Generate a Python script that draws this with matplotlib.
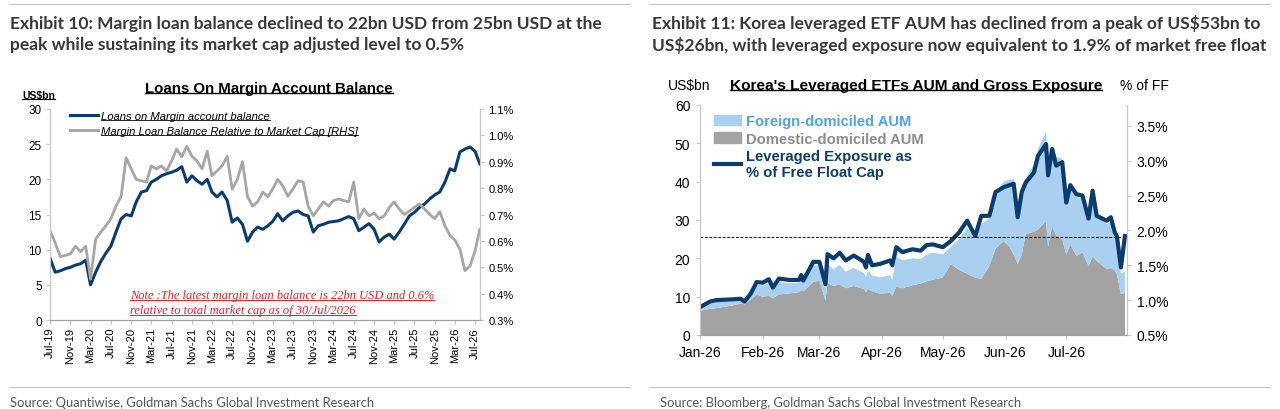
import pandas as pd
import matplotlib.pyplot as plt
import matplotlib.dates as mdates
from matplotlib.lines import Line2D
from matplotlib.patches import Patch
from matplotlib.ticker import FuncFormatter, MultipleLocator

plt.rcParams['font.family'] = ['Liberation Sans', 'DejaVu Sans']

# ---- Exhibit 10 data: monthly, Jul-19 .. Jul-26, plus last print 30-Jul-26
margin_dates = list(pd.date_range("2019-07-01", periods=85, freq="MS")) + [pd.Timestamp("2026-07-30")]
loan_balance = [
    8.8, 6.8, 7.0, 7.3, 7.5, 7.8, 8.0, 8.5, 5.0, 6.8, 8.3, 9.5,
    10.5, 12.5, 14.4, 15.0, 14.8, 16.8, 18.2, 18.4, 19.6, 20.0, 20.5, 20.8,
    21.0, 21.3, 21.8, 19.6, 20.5, 19.8, 19.3, 20.0, 18.2, 17.5, 18.2, 17.0,
    13.9, 14.5, 13.6, 11.2, 12.5, 13.2, 12.9, 13.4, 14.0, 15.1, 14.1, 14.8,
    15.3, 15.5, 15.0, 14.8, 12.5, 13.4, 13.6, 13.9, 14.0, 14.1, 14.4, 14.7,
    14.4, 12.7, 13.2, 13.7, 12.9, 11.1, 11.8, 12.2, 11.5, 12.5, 13.6, 14.8,
    15.3, 16.0, 16.5, 17.2, 17.8, 18.2, 19.6, 21.5, 21.2, 23.9, 24.3, 24.6,
    24.0, 22.2,
]
loan_to_mcap = [
    0.639, 0.593, 0.540, 0.545, 0.551, 0.580, 0.559, 0.580, 0.455, 0.607, 0.633, 0.657,
    0.684, 0.732, 0.769, 0.915, 0.873, 0.833, 0.828, 0.823, 0.884, 0.873, 0.884, 0.865,
    0.903, 0.948, 0.919, 0.959, 0.921, 0.903, 0.873, 0.940, 0.847, 0.865, 0.884, 0.921,
    0.796, 0.833, 0.900, 0.769, 0.732, 0.748, 0.785, 0.767, 0.796, 0.833, 0.809, 0.769,
    0.796, 0.828, 0.823, 0.732, 0.695, 0.721, 0.748, 0.732, 0.753, 0.759, 0.753, 0.748,
    0.823, 0.684, 0.721, 0.695, 0.705, 0.684, 0.695, 0.727, 0.748, 0.721, 0.700, 0.713,
    0.727, 0.740, 0.721, 0.700, 0.684, 0.711, 0.657, 0.620, 0.604, 0.569, 0.487, 0.505,
    0.561, 0.644,
]

# ---- Exhibit 11 data: 2026
etf_dates = [
    "2026-01-01", "2026-01-06", "2026-01-09", "2026-01-16", "2026-01-21", "2026-01-23",
    "2026-01-26", "2026-01-29", "2026-02-01", "2026-02-04", "2026-02-06", "2026-02-09",
    "2026-02-14", "2026-02-19", "2026-02-20", "2026-02-21", "2026-02-26", "2026-03-01",
    "2026-03-04", "2026-03-05", "2026-03-08", "2026-03-11", "2026-03-14", "2026-03-18",
    "2026-03-23", "2026-03-24", "2026-03-25", "2026-03-27", "2026-03-31", "2026-04-05",
    "2026-04-06", "2026-04-08", "2026-04-11", "2026-04-16", "2026-04-20", "2026-04-23",
    "2026-04-26", "2026-05-01", "2026-05-05", "2026-05-09", "2026-05-13", "2026-05-17",
    "2026-05-20", "2026-05-24", "2026-05-27", "2026-05-31", "2026-06-03", "2026-06-05",
    "2026-06-07", "2026-06-09", "2026-06-11", "2026-06-15", "2026-06-17", "2026-06-21",
    "2026-06-22", "2026-06-24", "2026-06-26", "2026-06-29", "2026-07-01", "2026-07-03",
    "2026-07-06", "2026-07-09", "2026-07-12", "2026-07-14", "2026-07-16", "2026-07-21",
    "2026-07-23", "2026-07-25", "2026-07-26", "2026-07-28", "2026-07-30",
]
domestic_aum = [
    6.3, 6.8, 7.0, 7.6, 8.2, 8.0, 9.2, 10.5, 10.0, 10.2, 9.6, 10.6,
    10.8, 11.2, 11.6, 11.4, 13.8, 14.2, 8.9, 13.5, 12.8, 13.2, 12.2, 12.8,
    12.0, 11.2, 12.0, 11.4, 10.8, 11.0, 10.2, 12.6, 12.2, 13.0, 13.4, 14.0,
    14.4, 15.0, 18.5, 17.0, 16.0, 15.0, 14.6, 18.0, 22.5, 24.5, 23.0, 21.0,
    18.5, 21.0, 26.4, 26.9, 27.5, 29.7, 23.0, 28.4, 26.0, 25.0, 21.0, 23.7,
    20.6, 21.6, 18.0, 20.5, 19.3, 17.2, 17.5, 16.8, 15.9, 10.7, 11.0,
]
foreign_aum = [
    0.7, 1.2, 1.6, 1.2, 0.8, 0.5, 1.0, 2.7, 2.8, 3.4, 2.2, 3.2,
    2.7, 2.4, 2.9, 2.0, 4.2, 4.0, 3.1, 5.0, 4.4, 5.1, 4.3, 4.7,
    4.2, 3.8, 5.0, 4.1, 4.2, 4.6, 4.0, 7.9, 7.3, 7.0, 6.4, 7.0,
    7.1, 6.0, 4.5, 8.0, 12.0, 10.0, 14.4, 12.5, 14.5, 15.5, 17.5, 19.8,
    13.5, 17.0, 14.6, 17.6, 21.0, 23.3, 20.5, 21.1, 20.5, 21.0, 15.0, 15.8,
    15.4, 13.9, 12.5, 15.5, 11.7, 11.8, 12.0, 8.2, 7.8, 5.3, 5.5,
]
lev_exposure_pct = [
    0.90, 0.98, 1.00, 1.01, 1.02, 0.98, 1.09, 1.26, 1.25, 1.30, 1.18, 1.31,
    1.29, 1.29, 1.36, 1.28, 1.55, 1.55, 1.23, 1.66, 1.60, 1.68, 1.57, 1.64,
    1.55, 1.47, 1.65, 1.50, 1.52, 1.57, 1.50, 1.76, 1.69, 1.73, 1.71, 1.79,
    1.80, 1.76, 1.85, 1.97, 2.14, 1.92, 2.21, 2.21, 2.55, 2.62, 2.65, 2.67,
    2.19, 2.55, 2.69, 2.83, 3.07, 3.24, 2.79, 3.17, 2.93, 2.98, 2.40, 2.65,
    2.52, 2.50, 2.17, 2.57, 2.21, 2.14, 2.19, 1.97, 1.92, 1.47, 1.92,
]
current_level = 1.9

NAVY = '#0c3c6e'
GREY_LINE = '#a6a6a6'
GREY_AREA = '#a3a3a3'
LIGHT_BLUE = '#a9d0f0'
SPINE = '#c8c8c8'
W, H = 1280, 410

fig = plt.figure(figsize=(12.8, 4.1), dpi=100)


def box(x0, y0, x1, y1):
    return [x0 / W, 1 - y1 / H, (x1 - x0) / W, (y1 - y0) / H]


def pct_fmt(v, _):
    return f"{v:.1f}%"


# ---------------- left panel ----------------
ax1 = fig.add_axes(box(50, 110, 480, 321))
ax1.plot(margin_dates, loan_balance, color=NAVY, lw=2.2, solid_joinstyle='round')
ax1.set_ylim(0, 30)
ax1.yaxis.set_major_locator(MultipleLocator(5))
ax1.set_xlim(pd.Timestamp("2019-07-01"), pd.Timestamp("2026-07-31"))
ax1.xaxis.set_major_locator(mdates.MonthLocator(bymonth=[3, 7, 11]))
ax1.xaxis.set_major_formatter(mdates.DateFormatter('%b-%y'))
ax1.tick_params(axis='x', labelrotation=90, labelsize=8, length=3, color=SPINE, pad=2)
ax1.tick_params(axis='y', labelsize=8.5, length=3, color=SPINE, pad=3)

ax1b = ax1.twinx()
ax1b.plot(margin_dates, loan_to_mcap, color=GREY_LINE, lw=2.0, solid_joinstyle='round')
ax1b.set_ylim(0.3, 1.1)
ax1b.yaxis.set_major_locator(MultipleLocator(0.1))
ax1b.yaxis.set_major_formatter(FuncFormatter(pct_fmt))
ax1b.tick_params(axis='y', labelsize=8, length=3, color=SPINE, pad=3)

for a in (ax1, ax1b):
    a.spines['top'].set_visible(False)
    a.spines['left'].set_color(SPINE)
    a.spines['right'].set_color(SPINE)
    a.spines['bottom'].set_color('#a0a0a0')
    a.patch.set_visible(False)

leg1 = ax1b.legend(
    [Line2D([], [], color=NAVY, lw=2.2), Line2D([], [], color=GREY_LINE, lw=2.2)],
    ["Loans on Margin account balance", "Margin Loan Balance Relative to Market Cap [RHS]"],
    loc='upper left', bbox_to_anchor=(0.035, 1.01), frameon=False,
    prop={'size': 8.1, 'style': 'italic'}, handlelength=2.5, handletextpad=0.3,
    labelspacing=0.4, borderaxespad=0.0,
)

t_us1 = fig.text(22 / W, 1 - 96 / H, "US$bn", fontsize=7.5, fontweight='bold', va='center')
t_title1 = fig.text(269 / W, 1 - 89 / H, "Loans On Margin Account Balance",
                    fontsize=10.8, fontweight='bold', ha='center', va='center')
note_kw = dict(fontsize=8.9, style='italic', color='#e8202a', family=['Liberation Serif', 'DejaVu Serif'])
t_note1 = fig.text(130 / W, 1 - 296 / H, "Note :The latest margin loan balance is 22bn USD and 0.6%",
                   va='center', **note_kw)
t_note2 = fig.text(130 / W, 1 - 311 / H, "relative to total market cap as of 30/Jul/2026",
                   va='center', **note_kw)

# ---------------- right panel ----------------
ax2 = fig.add_axes(box(700, 106, 1127, 336))
etf_x = pd.to_datetime(etf_dates)
ax2.stackplot(etf_x, domestic_aum, foreign_aum, colors=[GREY_AREA, LIGHT_BLUE], lw=0)
ax2.set_ylim(0, 60)
ax2.yaxis.set_major_locator(MultipleLocator(10))
ax2.set_xlim(pd.Timestamp("2026-01-01"), pd.Timestamp("2026-07-31"))
ax2.xaxis.set_major_locator(mdates.MonthLocator())
ax2.xaxis.set_major_formatter(mdates.DateFormatter('%b-%y'))
ax2.tick_params(axis='x', labelsize=10, length=3, color=SPINE, pad=4)
ax2.tick_params(axis='y', labelsize=10, length=3, color=SPINE, pad=4)

ax2b = ax2.twinx()
ax2b.plot(etf_x, lev_exposure_pct, color=NAVY, lw=3.0, solid_joinstyle='round')
ax2b.axhline(current_level, color='#222222', lw=0.8, ls=(0, (2.5, 1.5)))
ax2b.set_ylim(0.5, 3.8)
ax2b.yaxis.set_major_locator(MultipleLocator(0.5))
ax2b.yaxis.set_major_formatter(FuncFormatter(pct_fmt))
ax2b.tick_params(axis='y', labelsize=10, length=3, color=SPINE, pad=4)

for a in (ax2, ax2b):
    a.spines['top'].set_visible(False)
    a.spines['left'].set_color(SPINE)
    a.spines['right'].set_color(SPINE)
    a.spines['bottom'].set_color('#a0a0a0')
    a.patch.set_visible(False)

leg2 = ax2b.legend(
    [Patch(color=LIGHT_BLUE), Patch(color=GREY_AREA), Line2D([], [], color=NAVY, lw=3.0)],
    ["Foreign-domiciled AUM", "Domestic-domiciled AUM", "Leveraged Exposure as\n% of Free Float Cap"],
    loc='upper left', bbox_to_anchor=(0.02, 0.985), frameon=False,
    prop={'size': 10.6, 'weight': 'bold'}, handlelength=1.8, handletextpad=0.35,
    labelspacing=0.22, borderaxespad=0.0,
)
for txt, c in zip(leg2.get_texts(), ['#4fa3e6', '#8c8c8c', NAVY]):
    txt.set_color(c)

fig.text(668 / W, 1 - 86 / H, "US$bn", fontsize=10, va='center')
t_title2 = fig.text(916 / W, 1 - 86 / H, "Korea's Leveraged ETFs AUM and Gross Exposure",
                    fontsize=11.1, fontweight='bold', ha='center', va='center')
fig.text(1120 / W, 1 - 86 / H, "% of FF", fontsize=10, va='center')

# ---------------- headers and footers ----------------
head_kw = dict(fontsize=12.5, fontweight='bold', color='#383838', family=['Lato', 'DejaVu Sans'], va='center')
fig.text(10 / W, 1 - 24 / H, "Exhibit 10: Margin loan balance declined to 22bn USD from 25bn USD at the", **head_kw)
fig.text(10 / W, 1 - 45 / H, "peak while sustaining its market cap adjusted level to 0.5%", **head_kw)
fig.text(652 / W, 1 - 24 / H, "Exhibit 11: Korea leveraged ETF AUM has declined from a peak of US$53bn to", **head_kw)
fig.text(652 / W, 1 - 45 / H, "US$26bn, with leveraged exposure now equivalent to 1.9% of market free float", **head_kw)

src_kw = dict(fontsize=9.3, color='#555555', family=['Lato', 'DejaVu Sans'], va='center')
fig.text(10 / W, 1 - 403 / H, "Source: Quantiwise, Goldman Sachs Global Investment Research", **src_kw)
fig.text(660 / W, 1 - 403 / H, "Source: Bloomberg, Goldman Sachs Global Investment Research", **src_kw)

for x0, x1 in [(10, 630), (650, 1270)]:
    for y in (5, 388):
        fig.add_artist(Line2D([x0 / W, x1 / W], [1 - y / H, 1 - y / H], color='#c4c4c4', lw=0.8))

# ---------------- underlines ----------------
fig.canvas.draw()
renderer = fig.canvas.get_renderer()


def underline(t, color='black', lw=0.8, off=0.12):
    bb = t.get_window_extent(renderer)
    y = bb.y0 + off * bb.height
    fig.add_artist(Line2D([bb.x0 / W, bb.x1 / W], [y / H, y / H], color=color, lw=lw))


underline(t_us1)
underline(t_title1, lw=1.0)
underline(t_title2, lw=1.0)
underline(t_note1, color='#e8202a', lw=0.7)
underline(t_note2, color='#e8202a', lw=0.7)
for txt in leg1.get_texts():
    underline(txt, lw=0.6)

fig.savefig("out.png", dpi=100)
